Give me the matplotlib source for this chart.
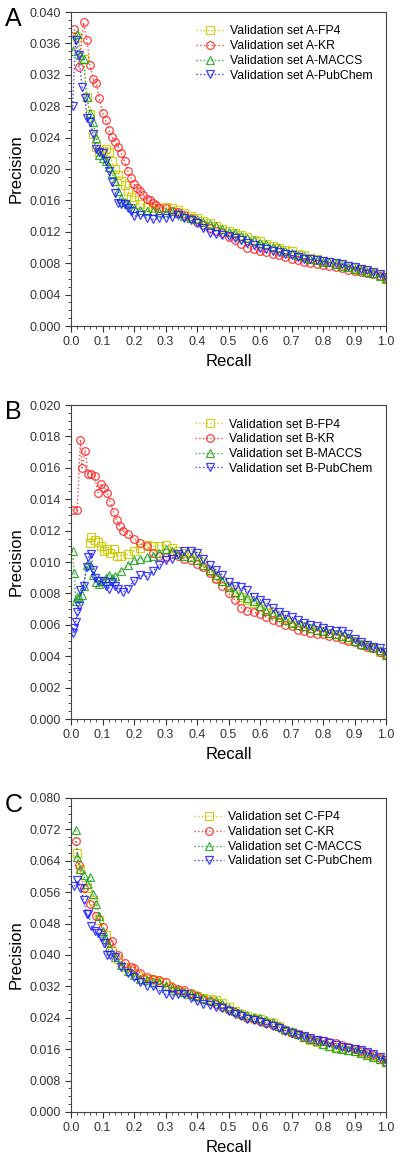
import matplotlib
matplotlib.use("Agg")
import matplotlib.pyplot as plt
from matplotlib.ticker import MultipleLocator, FormatStrFormatter

plt.rcParams["font.family"] = ["Liberation Sans", "DejaVu Sans"]

# shared recall grid for the dense right-hand part of every curve
TAIL_RECALL = [0.40, 0.42, 0.44, 0.46, 0.48, 0.50, 0.52, 0.54, 0.56, 0.58,
               0.60, 0.62, 0.64, 0.66, 0.68, 0.70, 0.72, 0.74, 0.76, 0.78,
               0.80, 0.82, 0.84, 0.86, 0.88, 0.90, 0.92, 0.94, 0.96, 0.98, 1.00]

METHODS = ["FP4", "KR", "MACCS", "PubChem"]

# ---------------- panel A ----------------
A_FP4_HEAD_RECALL = [0.02, 0.04, 0.05, 0.06, 0.07, 0.08, 0.09, 0.10, 0.11, 0.12, 0.13, 0.14, 0.15, 0.16,
                     0.17, 0.18, 0.19, 0.20, 0.22, 0.24, 0.26, 0.28, 0.30, 0.32, 0.34, 0.36, 0.38]
A_FP4_HEAD_PREC = [.0368, .0340, .0292, .0270, .0245, .0228, .0222, .0223, .0225, .0222, .0210, .0200, .0192, .0185,
                   .0180, .0172, .0165, .0160, .0156, .0152, .0150, .0150, .0152, .0150, .0148, .0144, .0140]
A_FP4_TAIL_PREC = [.0137, .0134, .0131, .0128, .0124, .0121, .0119, .0116, .0113, .0110, .0108, .0105, .0102, .0100,
                   .0097, .0095, .0092, .0090, .0087, .0085, .0083, .0081, .0079, .0078, .0076, .0074, .0072, .0070,
                   .0068, .0065, .0061]

A_KR_HEAD_RECALL = [0.01, 0.025, 0.04, 0.05, 0.06, 0.07, 0.08, 0.09, 0.10, 0.11, 0.12, 0.13, 0.14, 0.15, 0.16, 0.17,
                    0.18, 0.19, 0.20, 0.21, 0.22, 0.23, 0.24, 0.25, 0.26, 0.27, 0.28, 0.30, 0.32, 0.34, 0.36, 0.38]
A_KR_HEAD_PREC = [.0378, .0330, .0387, .0365, .0333, .0315, .0310, .0290, .0272, .0262, .0250, .0241, .0235, .0228,
                  .0220, .0210, .0198, .0189, .0181, .0176, .0172, .0167, .0162, .0160, .0157, .0154, .0151, .0150,
                  .0147, .0145, .0141, .0137]
A_KR_TAIL_PREC = [.0133, .0129, .0125, .0121, .0118, .0114, .0110, .0105, .0100, .0098, .0096, .0094, .0092, .0090,
                  .0088, .0086, .0084, .0082, .0080, .0079, .0078, .0077, .0075, .0074, .0072, .0070, .0069, .0067,
                  .0066, .0064, .0061]

A_MACCS_HEAD_RECALL = [0.005, 0.02, 0.03, 0.04, 0.05, 0.06, 0.07, 0.08, 0.09, 0.10, 0.11, 0.12, 0.13, 0.14, 0.15,
                       0.16, 0.17, 0.18, 0.20, 0.22, 0.24, 0.26, 0.28, 0.30, 0.32, 0.34, 0.36, 0.38]
A_MACCS_HEAD_PREC = [.0350, .0372, .0345, .0340, .0292, .0272, .0260, .0240, .0218, .0214, .0210, .0203, .0195, .0185,
                     .0172, .0163, .0158, .0155, .0150, .0148, .0146, .0146, .0145, .0145, .0146, .0144, .0140, .0138]
A_MACCS_TAIL_PREC = [.0136, .0133, .0130, .0127, .0124, .0120, .0118, .0115, .0112, .0109, .0106, .0104, .0101, .0099,
                     .0096, .0093, .0091, .0089, .0086, .0084, .0082, .0081, .0079, .0077, .0075, .0073, .0071, .0069,
                     .0067, .0064, .0060]

A_PUB_HEAD_RECALL = [0.005, 0.015, 0.025, 0.035, 0.045, 0.05, 0.06, 0.07, 0.08, 0.09, 0.10, 0.11, 0.12, 0.13, 0.14,
                     0.15, 0.16, 0.17, 0.18, 0.19, 0.20, 0.22, 0.24, 0.26, 0.28, 0.30, 0.32, 0.34, 0.36, 0.38]
A_PUB_HEAD_PREC = [.0280, .0365, .0345, .0305, .0290, .0265, .0260, .0245, .0225, .0222, .0220, .0210, .0198, .0183,
                   .0170, .0157, .0155, .0155, .0150, .0146, .0140, .0141, .0138, .0136, .0138, .0138, .0139, .0141,
                   .0138, .0135]
A_PUB_TAIL_PREC = [.0131, .0125, .0119, .0117, .0116, .0115, .0112, .0110, .0106, .0103, .0100, .0098, .0096, .0094,
                   .0092, .0090, .0088, .0086, .0085, .0084, .0083, .0081, .0080, .0079, .0077, .0075, .0073, .0071,
                   .0069, .0066, .0063]

# ---------------- panel B ----------------
B_FP4_HEAD_RECALL = [0.06, 0.065, 0.075, 0.085, 0.095, 0.105, 0.115, 0.125, 0.135, 0.145, 0.16, 0.18, 0.20, 0.22,
                     0.24, 0.26, 0.28, 0.30, 0.32, 0.34, 0.36, 0.38]
B_FP4_HEAD_PREC = [.0112, .0116, .0114, .0113, .0110, .0107, .0108, .0106, .0108, .0104, .0104, .0105, .0107, .0109,
                   .0111, .0110, .0110, .0111, .0109, .0107, .0106, .0106]
B_FP4_TAIL_PREC = [.0104, .0100, .0094, .0090, .0088, .0084, .0081, .0078, .0076, .0074, .0072, .0070, .0068, .0066,
                   .0064, .0062, .0060, .0059, .0058, .0057, .0056, .0055, .0054, .0053, .0051, .0050, .0048, .0047,
                   .0045, .0043, .0042]

B_KR_HEAD_RECALL = [0.005, 0.02, 0.03, 0.035, 0.045, 0.055, 0.065, 0.075, 0.085, 0.095, 0.105, 0.115, 0.125, 0.135,
                    0.145, 0.155, 0.165, 0.18, 0.20, 0.22, 0.24, 0.26, 0.28, 0.30, 0.32, 0.34, 0.36, 0.38]
B_KR_HEAD_PREC = [.0133, .0133, .0178, .0160, .0171, .0156, .0156, .0155, .0144, .0150, .0147, .0144, .0138, .0132,
                  .0127, .0123, .0120, .0118, .0115, .0112, .0110, .0106, .0104, .0103, .0105, .0104, .0102, .0101]
B_KR_TAIL_PREC = [.0099, .0097, .0093, .0089, .0085, .0080, .0076, .0071, .0069, .0068, .0067, .0065, .0063, .0062,
                  .0060, .0059, .0057, .0056, .0055, .0054, .0054, .0053, .0052, .0051, .0050, .0049, .0047, .0046,
                  .0045, .0043, .0041]

B_MACCS_HEAD_RECALL = [0.005, 0.01, 0.015, 0.02, 0.025, 0.035, 0.04, 0.05, 0.06, 0.07, 0.08, 0.09, 0.10, 0.11, 0.12,
                       0.13, 0.14, 0.16, 0.18, 0.20, 0.22, 0.24, 0.26, 0.28, 0.30, 0.32, 0.34, 0.36, 0.38]
B_MACCS_HEAD_PREC = [.0107, .0093, .0075, .0078, .0078, .0079, .0085, .0098, .0098, .0092, .0087, .0086, .0088, .0090,
                     .0092, .0090, .0091, .0094, .0098, .0101, .0102, .0103, .0104, .0106, .0108, .0107, .0105, .0104,
                     .0103]
B_MACCS_TAIL_PREC = [.0101, .0098, .0095, .0092, .0088, .0084, .0081, .0079, .0077, .0075, .0072, .0069, .0067, .0065,
                     .0063, .0061, .0060, .0059, .0058, .0057, .0056, .0055, .0054, .0053, .0052, .0050, .0048, .0047,
                     .0046, .0044, .0041]

B_PUB_HEAD_RECALL = [0.005, 0.01, 0.015, 0.02, 0.025, 0.03, 0.04, 0.05, 0.055, 0.065, 0.07, 0.075, 0.085, 0.10, 0.11,
                     0.12, 0.13, 0.14, 0.15, 0.165, 0.18, 0.20, 0.22, 0.24, 0.26, 0.28, 0.30, 0.32, 0.34, 0.36, 0.38]
B_PUB_HEAD_PREC = [.0055, .0058, .0062, .0068, .0072, .0082, .0085, .0097, .0103, .0105, .0095, .0090, .0088, .0088,
                   .0085, .0083, .0087, .0085, .0083, .0081, .0083, .0088, .0092, .0091, .0094, .0098, .0101, .0102,
                   .0105, .0107, .0107]
B_PUB_TAIL_PREC = [.0106, .0102, .0098, .0095, .0092, .0087, .0085, .0084, .0082, .0078, .0076, .0074, .0071, .0068,
                   .0066, .0065, .0063, .0061, .0060, .0059, .0058, .0057, .0056, .0056, .0054, .0051, .0049, .0047,
                   .0046, .0045, .0043]

# ---------------- panel C ----------------
C_FP4_HEAD_RECALL = [0.02, 0.03, 0.05, 0.07, 0.09, 0.11, 0.13, 0.15, 0.17, 0.19, 0.21, 0.23, 0.25, 0.27, 0.29, 0.31,
                     0.33, 0.35, 0.37, 0.39]
C_FP4_HEAD_PREC = [.0660, .0620, .0570, .0540, .0490, .0450, .0410, .0390, .0370, .0360, .0350, .0340, .0338, .0335,
                   .0332, .0320, .0310, .0305, .0300, .0297]
C_FP4_TAIL_PREC = [.0295, .0290, .0288, .0285, .0278, .0268, .0258, .0250, .0244, .0239, .0236, .0230, .0226, .0218,
                   .0210, .0203, .0198, .0190, .0184, .0178, .0172, .0168, .0165, .0162, .0158, .0155, .0152, .0148,
                   .0142, .0136, .0127]

C_KR_HEAD_RECALL = [0.015, 0.025, 0.04, 0.06, 0.08, 0.10, 0.12, 0.13, 0.15, 0.17, 0.19, 0.20, 0.22, 0.24, 0.26, 0.28,
                    0.30, 0.32, 0.34, 0.36, 0.38]
C_KR_HEAD_PREC = [.0690, .0630, .0570, .0530, .0500, .0470, .0430, .0435, .0400, .0380, .0370, .0368, .0355, .0345,
                  .0340, .0335, .0330, .0318, .0312, .0310, .0302]
C_KR_TAIL_PREC = [.0295, .0288, .0282, .0276, .0268, .0260, .0254, .0246, .0240, .0236, .0232, .0227, .0222, .0216,
                  .0208, .0202, .0198, .0192, .0187, .0183, .0180, .0178, .0175, .0170, .0165, .0160, .0156, .0150,
                  .0145, .0138, .0128]

C_MACCS_HEAD_RECALL = [0.015, 0.02, 0.03, 0.04, 0.05, 0.06, 0.07, 0.08, 0.09, 0.10, 0.11, 0.12, 0.14, 0.16, 0.18,
                       0.20, 0.22, 0.24, 0.26, 0.28, 0.30, 0.32, 0.34, 0.36, 0.38]
C_MACCS_HEAD_PREC = [.0718, .0650, .0620, .0605, .0580, .0598, .0555, .0530, .0500, .0460, .0440, .0420, .0395, .0375,
                     .0360, .0348, .0340, .0335, .0332, .0330, .0322, .0315, .0310, .0305, .0300]
C_MACCS_TAIL_PREC = [.0295, .0290, .0286, .0282, .0275, .0266, .0258, .0252, .0247, .0243, .0240, .0234, .0228, .0220,
                     .0212, .0205, .0199, .0192, .0186, .0180, .0173, .0168, .0163, .0160, .0157, .0155, .0151, .0146,
                     .0141, .0135, .0126]

C_PUB_HEAD_RECALL = [0.01, 0.02, 0.03, 0.04, 0.05, 0.055, 0.065, 0.075, 0.085, 0.095, 0.105, 0.115, 0.125, 0.14, 0.16,
                     0.18, 0.20, 0.22, 0.24, 0.26, 0.28, 0.30, 0.32, 0.34, 0.36, 0.38]
C_PUB_HEAD_PREC = [.0575, .0590, .0570, .0540, .0505, .0505, .0475, .0460, .0455, .0445, .0430, .0400, .0400, .0395,
                   .0370, .0355, .0345, .0330, .0322, .0320, .0310, .0300, .0298, .0300, .0300, .0290]
C_PUB_TAIL_PREC = [.0282, .0276, .0272, .0268, .0264, .0258, .0250, .0244, .0238, .0233, .0228, .0224, .0218, .0213,
                   .0206, .0200, .0197, .0193, .0188, .0184, .0180, .0175, .0170, .0166, .0163, .0161, .0157, .0152,
                   .0147, .0140, .0133]

PANELS = [
    ("A", 0.040, 0.004, 0.001,
     [(A_FP4_HEAD_RECALL, A_FP4_HEAD_PREC, A_FP4_TAIL_PREC),
      (A_KR_HEAD_RECALL, A_KR_HEAD_PREC, A_KR_TAIL_PREC),
      (A_MACCS_HEAD_RECALL, A_MACCS_HEAD_PREC, A_MACCS_TAIL_PREC),
      (A_PUB_HEAD_RECALL, A_PUB_HEAD_PREC, A_PUB_TAIL_PREC)]),
    ("B", 0.020, 0.002, 0.0005,
     [(B_FP4_HEAD_RECALL, B_FP4_HEAD_PREC, B_FP4_TAIL_PREC),
      (B_KR_HEAD_RECALL, B_KR_HEAD_PREC, B_KR_TAIL_PREC),
      (B_MACCS_HEAD_RECALL, B_MACCS_HEAD_PREC, B_MACCS_TAIL_PREC),
      (B_PUB_HEAD_RECALL, B_PUB_HEAD_PREC, B_PUB_TAIL_PREC)]),
    ("C", 0.080, 0.008, 0.002,
     [(C_FP4_HEAD_RECALL, C_FP4_HEAD_PREC, C_FP4_TAIL_PREC),
      (C_KR_HEAD_RECALL, C_KR_HEAD_PREC, C_KR_TAIL_PREC),
      (C_MACCS_HEAD_RECALL, C_MACCS_HEAD_PREC, C_MACCS_TAIL_PREC),
      (C_PUB_HEAD_RECALL, C_PUB_HEAD_PREC, C_PUB_TAIL_PREC)]),
]

colors = ["#c8c800", "#ff2020", "#20a020", "#2020ff"]
markers = ["s", "o", "^", "v"]

fig = plt.figure(figsize=(4.0, 11.59), dpi=100)
bottoms = [0.7187, 0.3796, 0.0406]

for (letter, ymax, ymaj, ymin, series), bot in zip(PANELS, bottoms):
    ax = fig.add_axes([0.1775, bot, 0.7875, 0.2709])
    for (hx, hy, ty), col, mk, name in zip(series, colors, markers, METHODS):
        x = hx + TAIL_RECALL
        y = hy + ty
        ax.plot(x, y, linestyle=":", linewidth=1.0, color=col, alpha=0.85,
                marker=mk, markersize=5.5, markerfacecolor="none",
                markeredgecolor=col, markeredgewidth=0.9,
                label="Validation set %s-%s" % (letter, name))
    ax.set_xlim(0, 1.0)
    ax.set_ylim(0, ymax)
    ax.xaxis.set_major_locator(MultipleLocator(0.1))
    ax.xaxis.set_minor_locator(MultipleLocator(0.02))
    ax.yaxis.set_major_locator(MultipleLocator(ymaj))
    ax.yaxis.set_minor_locator(MultipleLocator(ymin))
    ax.xaxis.set_major_formatter(FormatStrFormatter("%.1f"))
    ax.yaxis.set_major_formatter(FormatStrFormatter("%.3f"))
    ax.tick_params(which="both", direction="out", top=False, right=False,
                   labelsize=9, colors="#333333")
    ax.tick_params(which="major", length=4)
    ax.tick_params(which="minor", length=2)
    for s in ax.spines.values():
        s.set_color("#444444")
    ax.set_xlabel("Recall", fontsize=12)
    ax.set_ylabel("Precision", fontsize=12)
    ax.legend(loc="upper right", frameon=False, fontsize=8.8,
              handlelength=2.4, handletextpad=0.4, labelspacing=0.22,
              borderaxespad=0.7)
    fig.text(0.012, bot + 0.2709 - 0.006, letter, fontsize=18, va="center", ha="left")

fig.savefig("out.png", dpi=100)
